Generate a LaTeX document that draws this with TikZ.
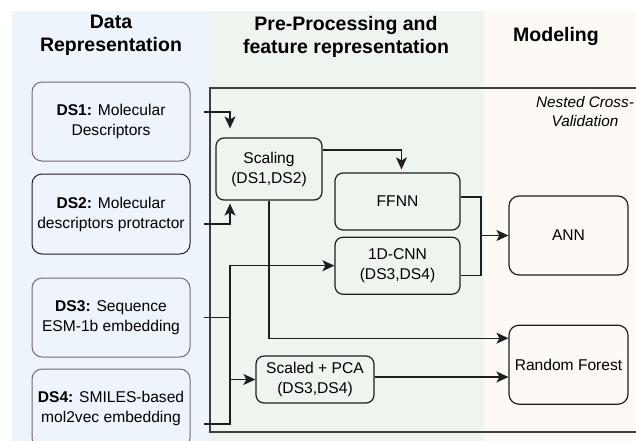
\documentclass[tikz,border=0pt]{standalone}
\usepackage{fontspec}
\setmainfont{Liberation Sans}
\usetikzlibrary{arrows.meta,positioning,calc}
\definecolor{colBlue}{HTML}{EEF4FC}
\definecolor{colGreen}{HTML}{EEF5EE}
\definecolor{colBeige}{HTML}{FDF9F4}
\definecolor{edgeGray}{HTML}{6E6E6E}
\definecolor{inkDark}{HTML}{1E1E1E}
\tikzset{
  colhead/.style={align=center, font=\fontsize{19.5}{23}\selectfont\bfseries, inner sep=0pt},
  dsbox/.style={draw=edgeGray, rounded corners=10pt, line width=1pt, align=center,
    minimum width=158pt, minimum height=79pt, font=\fontsize{15.6}{20}\selectfont,
    inner sep=0pt, fill=colBlue},
  procbox/.style={draw=inkDark, rounded corners=8pt, line width=1.2pt, align=center,
    font=\fontsize{15.6}{20}\selectfont, inner sep=0pt},
  modelbox/.style={procbox, minimum width=119pt, minimum height=79pt, rounded corners=10pt},
  cvlabel/.style={align=center, font=\fontsize{15.3}{19}\selectfont\itshape, inner sep=0pt},
  flow/.style={-{Stealth[length=12pt, width=11pt, inset=3pt]}, line width=1.3pt, draw=inkDark},
  link/.style={line width=1.3pt, draw=inkDark},
  frame/.style={line width=1.3pt, draw=black!75}
}
\begin{document}
\begin{tikzpicture}[x=1pt, y=-1pt]
  \path[use as bounding box, clip] (0,0) rectangle (636,440);

  % column backgrounds
  \fill[colBlue] (12,11) rectangle (210,445);
  \fill[colGreen] (210,11) rectangle (484,445);
  \fill[colBeige] (484,11) rectangle (640,445);
  \draw[frame] (640,88) -| (210,432) -- (640,432);

  \node[colhead] (hdata) at (111,35.5) {Data\\Representation};
  \node[colhead] (hprep) at (346,36.5) {Pre-Processing and\\feature representation};
  \node[colhead] (hmodel) at (556,36) {Modeling};
  \node[cvlabel] (cvtag) at (585,111.5) {Nested Cross-\\Validation};

  \node[dsbox] (ds1) at (111,121.5) {\textbf{DS1:} Molecular\\Descriptors};
  \node[dsbox, draw=inkDark, minimum height=80pt, below=12pt of ds1] (ds2) {\textbf{DS2:} Molecular\\descriptors protractor};
  \node[dsbox, below=23pt of ds2] (ds3) {\textbf{DS3:} Sequence\\ESM-1b embedding};
  \node[dsbox, below=11pt of ds3] (ds4) {\textbf{DS4:} SMILES-based\\mol2vec embedding};

  \node[procbox, minimum width=106pt, minimum height=62pt] (scaling) at (269,169) {Scaling\\(DS1,DS2)};
  \node[procbox, minimum width=125pt, minimum height=57pt] (ffnn) at (397.5,201.5) {FFNN};
  \node[procbox, minimum width=125pt, minimum height=57pt, below=6pt of ffnn] (cnn) {1D-CNN\\(DS3,DS4)};
  \node[procbox, minimum width=118pt, minimum height=47pt] (pca) at (315,379.5) {Scaled + PCA\\(DS3,DS4)};

  \node[modelbox] (ann) at (568.5,235.5) {ANN};
  \node[modelbox, below=49pt of ann] (rf) {Random Forest};

  \coordinate (busx) at (230,0);
  \coordinate (joinx) at (481,0);
  \coordinate (ffout) at ([yshift=4.5pt]ffnn.east);
  \coordinate (cnnout) at ([yshift=-9.5pt]cnn.east);
  \coordinate (pcaout) at ([yshift=2.5pt]pca.east);

  \draw[flow, shorten <=13pt, shorten >=9pt] ([yshift=9.5pt]ds1.east) -| (busx |- scaling.north);
  \draw[flow, shorten <=13pt, shorten >=3pt] ([yshift=-10pt]ds2.east) -| (busx |- scaling.south);
  \draw[flow, shorten >=3pt] ([yshift=19pt]scaling.east) -| ([xshift=4pt]ffnn.north);
  \draw[flow] (scaling.south) |- ([yshift=26.5pt]rf.west);

  \draw[link, shorten <=13pt] (ds3.east) -- (ds3.east -| busx);
  \draw[flow, shorten <=13pt] ([yshift=-15.5pt]ds4.east) -| (busx |- cnn.west) -- (cnn.west);
  \draw[flow] (busx |- pca.west) -- (pca.west);

  \draw[link] (ffout) -| (joinx |- cnnout) -- (cnnout);
  \draw[flow] (joinx |- ann.west) -- (ann.west);
  \draw[flow] (pcaout) -- (pcaout -| rf.west);
\end{tikzpicture}
\end{document}
